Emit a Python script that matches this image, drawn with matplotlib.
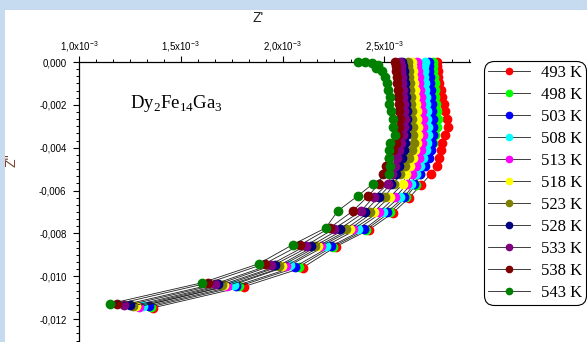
import matplotlib
matplotlib.use("Agg")
import matplotlib.pyplot as plt
from matplotlib.ticker import MultipleLocator, AutoMinorLocator, FuncFormatter
from matplotlib.patches import Rectangle

# impedance data, Z' and Z'' in units of 1e-3
temps = ["493 K", "498 K", "503 K", "508 K", "513 K", "518 K",
         "523 K", "528 K", "533 K", "538 K", "543 K"]
colors = ["#ff0000", "#00ff00", "#0000ff", "#00ffff", "#ff00ff", "#ffff00",
          "#808000", "#000080", "#800080", "#800000", "#008000"]

zre_493 = [2.759, 2.759, 2.764, 2.764, 2.768, 2.778, 2.783, 2.793, 2.798, 2.808, 2.813, 2.798, 2.783,
           2.778, 2.768, 2.759, 2.729, 2.680, 2.621, 2.542, 2.424, 2.261, 2.099, 1.808, 1.365]
zim_493 = [-0.01, -0.19, -0.42, -0.70, -0.98, -1.31, -1.63, -1.96, -2.28, -2.66, -3.03, -3.40, -3.78,
           -4.10, -4.48, -4.85, -5.22, -5.73, -6.34, -7.04, -7.83, -8.62, -9.60, -10.49, -11.47]

zre_498 = [2.739, 2.739, 2.739, 2.744, 2.749, 2.749, 2.749, 2.754, 2.759, 2.764, 2.759, 2.749, 2.739,
           2.719, 2.704, 2.690, 2.675, 2.655, 2.606, 2.527, 2.409, 2.246, 2.079, 1.788, 1.355]
zim_498 = [-0.02, -0.20, -0.43, -0.71, -0.99, -1.32, -1.64, -1.97, -2.29, -2.67, -3.04, -3.41, -3.79,
           -4.11, -4.49, -4.86, -5.23, -5.72, -6.32, -7.02, -7.83, -8.62, -9.56, -10.46, -11.42]

zre_503 = [2.719, 2.719, 2.719, 2.724, 2.724, 2.729, 2.729, 2.734, 2.734, 2.739, 2.739, 2.739, 2.734,
           2.729, 2.719, 2.700, 2.675, 2.645, 2.596, 2.512, 2.399, 2.236, 2.059, 1.773, 1.345]
zim_503 = [-0.01, -0.18, -0.41, -0.69, -0.97, -1.30, -1.62, -1.95, -2.27, -2.65, -3.02, -3.39, -3.77,
           -4.09, -4.47, -4.84, -5.21, -5.71, -6.31, -7.01, -7.81, -8.60, -9.56, -10.44, -11.38]

zre_508 = [2.700, 2.695, 2.695, 2.695, 2.700, 2.700, 2.704, 2.704, 2.709, 2.709, 2.714, 2.714, 2.709,
           2.704, 2.690, 2.675, 2.655, 2.631, 2.576, 2.493, 2.369, 2.212, 2.034, 1.759, 1.315]
zim_508 = [-0.02, -0.19, -0.42, -0.70, -0.98, -1.31, -1.63, -1.96, -2.28, -2.66, -3.03, -3.40, -3.78,
           -4.10, -4.48, -4.85, -5.22, -5.71, -6.29, -6.99, -7.79, -8.58, -9.49, -10.40, -11.38]

zre_513 = [2.660, 2.660, 2.665, 2.670, 2.670, 2.675, 2.680, 2.680, 2.685, 2.690, 2.690, 2.690, 2.685,
           2.680, 2.670, 2.655, 2.635, 2.611, 2.552, 2.473, 2.345, 2.187, 2.015, 1.729, 1.296]
zim_513 = [-0.01, -0.20, -0.43, -0.71, -0.99, -1.32, -1.64, -1.97, -2.29, -2.67, -3.04, -3.41, -3.79,
           -4.11, -4.49, -4.86, -5.23, -5.71, -6.31, -7.01, -7.81, -8.60, -9.53, -10.44, -11.42]

zre_518 = [2.635, 2.635, 2.640, 2.640, 2.645, 2.650, 2.650, 2.655, 2.660, 2.660, 2.665, 2.665, 2.660,
           2.650, 2.640, 2.626, 2.606, 2.591, 2.527, 2.448, 2.330, 2.172, 1.995, 1.714, 1.281]
zim_518 = [-0.02, -0.18, -0.41, -0.69, -0.97, -1.30, -1.62, -1.95, -2.27, -2.65, -3.02, -3.39, -3.77,
           -4.09, -4.47, -4.84, -5.21, -5.70, -6.29, -6.99, -7.80, -8.60, -9.51, -10.42, -11.40]

zre_523 = [2.616, 2.616, 2.621, 2.621, 2.626, 2.626, 2.631, 2.631, 2.635, 2.635, 2.640, 2.640, 2.645,
           2.635, 2.621, 2.601, 2.576, 2.547, 2.502, 2.429, 2.310, 2.158, 1.980, 1.700, 1.266]
zim_523 = [-0.01, -0.19, -0.42, -0.70, -0.98, -1.31, -1.63, -1.96, -2.28, -2.66, -3.03, -3.40, -3.78,
           -4.10, -4.48, -4.85, -5.22, -5.70, -6.29, -6.99, -7.79, -8.58, -9.51, -10.40, -11.38]

zre_528 = [2.586, 2.591, 2.596, 2.596, 2.601, 2.601, 2.606, 2.606, 2.611, 2.611, 2.611, 2.606, 2.601,
           2.596, 2.586, 2.571, 2.557, 2.532, 2.473, 2.404, 2.281, 2.138, 1.961, 1.685, 1.251]
zim_528 = [-0.02, -0.20, -0.43, -0.71, -0.99, -1.32, -1.64, -1.97, -2.29, -2.67, -3.04, -3.41, -3.79,
           -4.11, -4.49, -4.86, -5.23, -5.70, -6.29, -6.99, -7.79, -8.58, -9.46, -10.37, -11.33]

zre_533 = [2.576, 2.581, 2.581, 2.586, 2.586, 2.591, 2.591, 2.596, 2.596, 2.601, 2.596, 2.591, 2.581,
           2.571, 2.562, 2.552, 2.537, 2.517, 2.448, 2.384, 2.251, 2.113, 1.941, 1.670, 1.222]
zim_533 = [-0.01, -0.18, -0.41, -0.69, -0.97, -1.30, -1.62, -1.95, -2.27, -2.65, -3.02, -3.39, -3.77,
           -4.09, -4.47, -4.84, -5.21, -5.70, -6.29, -6.97, -7.79, -8.58, -9.46, -10.35, -11.33]

zre_538 = [2.552, 2.557, 2.557, 2.562, 2.562, 2.567, 2.567, 2.571, 2.571, 2.576, 2.571, 2.567, 2.557,
           2.542, 2.522, 2.507, 2.493, 2.473, 2.419, 2.345, 2.232, 2.084, 1.911, 1.631, 1.187]
zim_538 = [-0.02, -0.19, -0.42, -0.70, -0.98, -1.31, -1.63, -1.96, -2.28, -2.66, -3.03, -3.40, -3.78,
           -4.10, -4.48, -4.85, -5.22, -5.69, -6.27, -6.95, -7.74, -8.55, -9.42, -10.32, -11.30]

zre_543 = [2.369, 2.404, 2.438, 2.468, 2.458, 2.488, 2.502, 2.512, 2.517, 2.527, 2.522, 2.532, 2.542, 2.542,
           2.552, 2.527, 2.522, 2.522, 2.527, 2.522, 2.443, 2.369, 2.271, 2.212, 2.049, 1.882, 1.606, 1.153]
zim_543 = [-0.01, -0.02, -0.05, -0.14, -0.28, -0.42, -0.70, -0.98, -1.31, -1.63, -1.96, -2.28, -2.66, -3.03,
           -3.40, -3.78, -4.10, -4.48, -4.85, -5.22, -5.69, -6.25, -6.95, -7.74, -8.53, -9.42, -10.30, -11.28]

series = [(zre_493, zim_493), (zre_498, zim_498), (zre_503, zim_503), (zre_508, zim_508),
          (zre_513, zim_513), (zre_518, zim_518), (zre_523, zim_523), (zre_528, zim_528),
          (zre_533, zim_533), (zre_538, zim_538), (zre_543, zim_543)]

W, H = 587, 342
fig = plt.figure(figsize=(W / 100, H / 100), dpi=100)
fig.patch.set_facecolor("#c6daf0")
fig.patches.append(Rectangle((5 / W, 0), 1, 1 - 10 / H, transform=fig.transFigure,
                             facecolor="white", edgecolor="none", zorder=-1))

ax = fig.add_axes([79 / W, 0, (470 - 79) / W, 1 - 62 / H])
ax.set_facecolor("none")

handles = []
for (zr, zi), c, lab in zip(series, colors, temps):
    h, = ax.plot([v * 1e-3 for v in zr], [v * 1e-3 for v in zi], "-o", color="#202020", lw=0.6,
                 marker="o", ms=6, mfc=c, mec=c, label=lab, clip_on=False, zorder=3)
    handles.append(h)

ax.set_xlim(1.0e-3, 2.92e-3)
ax.set_ylim(-0.01307, 0)

for s in ["right", "bottom"]:
    ax.spines[s].set_visible(False)
for s in ["top", "left"]:
    ax.spines[s].set_linewidth(0.9)

ax.xaxis.tick_top()
ax.xaxis.set_label_position("top")
ax.xaxis.set_major_locator(MultipleLocator(0.5e-3))
ax.xaxis.set_minor_locator(AutoMinorLocator(6))
ax.yaxis.set_major_locator(MultipleLocator(0.002))
ax.yaxis.set_minor_locator(AutoMinorLocator(6))


def fmt_x(v, pos):
    return ("%.1f" % (v * 1e3)).replace(".", ",") + r"x10$^{\mathregular{-3}}$"


def fmt_y(v, pos):
    if abs(v) < 1e-9:
        return "0,000"
    return ("%.3f" % v).replace(".", ",")


ax.xaxis.set_major_formatter(FuncFormatter(fmt_x))
ax.yaxis.set_major_formatter(FuncFormatter(fmt_y))
ax.tick_params(which="major", direction="out", length=4, width=0.8, labelsize=7, pad=2)
ax.tick_params(which="minor", direction="out", length=2.2, width=0.7)
ax.tick_params(axis="y", which="major", pad=5)
for lbl in ax.get_xticklabels() + ax.get_yticklabels():
    lbl.set_family("Liberation Sans")

fig.text(258 / W, 1 - 18 / H, "Z'", ha="center", va="center", fontsize=10,
         family="Liberation Sans", color="#222222")
fig.text(12 / W, 1 - 160 / H, "Z''", ha="center", va="center", fontsize=10, rotation=90,
         family="Liberation Sans", color="#80402a")
fig.text(130 / W, 1 - 104 / H, r"Dy$_\mathregular{2}$Fe$_\mathregular{14}$Ga$_\mathregular{3}$",
         ha="left", va="center", fontsize=13.5, family="Liberation Serif")

leg = fig.legend(handles=handles, labels=temps, loc="upper left",
                 bbox_to_anchor=(484 / W, 1 - 61 / H), borderaxespad=0,
                 prop={"family": "Liberation Serif", "size": 12},
                 handlelength=2.5, handletextpad=0.66, borderpad=0.25, labelspacing=0.36,
                 markerscale=0.75, fancybox=True, framealpha=1, edgecolor="black")
leg.get_frame().set_boxstyle("round,pad=0,rounding_size=0.6")
leg.get_frame().set_linewidth(0.8)

plt.savefig("out.png", dpi=100)
